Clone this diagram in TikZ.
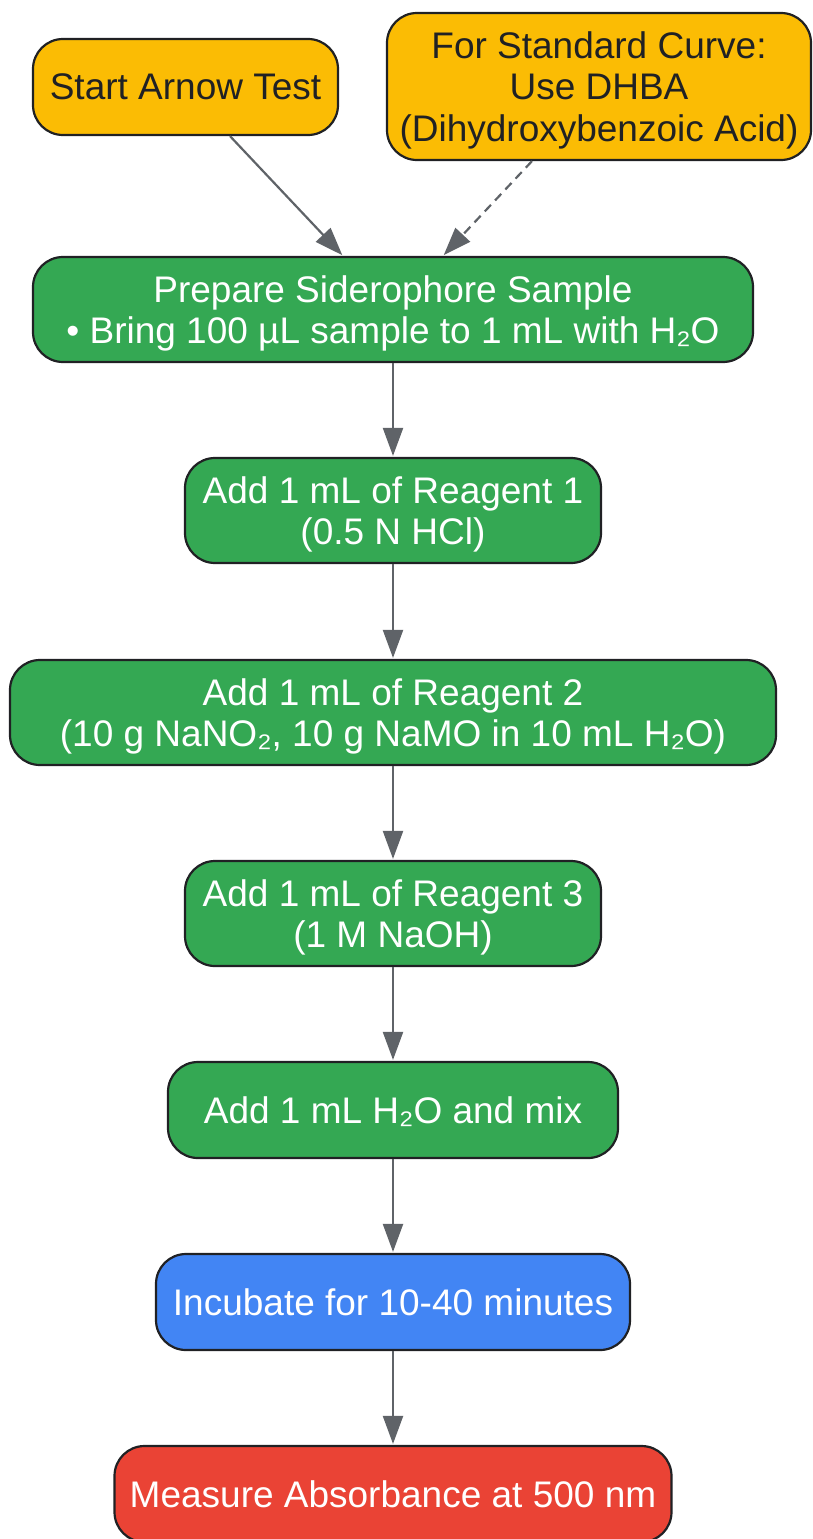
\documentclass[tikz,border=0pt]{standalone}
\usepackage{fontspec}
\setmainfont{Liberation Sans}
\usetikzlibrary{arrows.meta,calc}
\definecolor{gyellow}{HTML}{FBBC04}
\definecolor{ggreen}{HTML}{34A853}
\definecolor{gblue}{HTML}{4285F4}
\definecolor{gred}{HTML}{EA4335}
\definecolor{edgegray}{HTML}{5F6368}
\definecolor{darktext}{HTML}{202124}
\tikzset{
  box/.style={draw=darktext, line width=2.2pt, rounded corners=30pt, align=center,
    inner sep=0pt, text depth=-3pt, font=\fontsize{37}{41.8}\selectfont},
  startbox/.style={box, fill=gyellow, text=darktext},
  stepbox/.style={box, fill=ggreen, text=white},
  incbox/.style={box, fill=gblue, text=white},
  endbox/.style={box, fill=gred, text=white},
  conn/.style={draw=edgegray, line width=2.2pt, -{Triangle[length=28pt,width=20pt]}, shorten >=1pt},
}
\begin{document}
\begin{tikzpicture}[x=1pt,y=-1pt]
\useasboundingbox (0,0) rectangle (812,1539);
\node[startbox, minimum width=305pt, minimum height=96pt] (start) at (185.5,87) {Start Arnow Test};
\node[startbox, minimum width=424pt, minimum height=147pt] (std) at (599,86.5) {For Standard Curve:\\Use DHBA\\(Dihydroxybenzoic Acid)};
\node[stepbox, minimum width=720pt, minimum height=105pt] (prep) at (393,309.5) {Prepare Siderophore Sample\\• Bring 100 µL sample to 1 mL with H₂O};
\node[stepbox, minimum width=416pt, minimum height=105pt] (r1) at (393,510.5) {Add 1 mL of Reagent 1\\(0.5 N HCl)};
\node[stepbox, minimum width=766pt, minimum height=105pt] (r2) at (393,712.5) {Add 1 mL of Reagent 2\\(10 g NaNO₂, 10 g NaMO in 10 mL H₂O)};
\node[stepbox, minimum width=416pt, minimum height=105pt] (r3) at (393,913.5) {Add 1 mL of Reagent 3\\(1 M NaOH)};
\node[stepbox, minimum width=450pt, minimum height=96pt] (water) at (393,1110) {Add 1 mL H₂O and mix};
\node[incbox, minimum width=474pt, minimum height=96pt] (inc) at (393,1302) {Incubate for 10-40 minutes};
\node[endbox, minimum width=557pt, minimum height=96pt] (meas) at (393,1494) {Measure Absorbance at 500 nm};
\draw[conn] ($(start.south)+(44.5,0)$) -- ($(prep.north)+(-50,0)$);
\draw[conn, dash pattern=on 9pt off 6pt] ($(std.south)+(-67,0)$) -- ($(prep.north)+(50,0)$);
\draw[conn] (prep) -- (r1);
\draw[conn] (r1) -- (r2);
\draw[conn] (r2) -- (r3);
\draw[conn] (r3) -- (water);
\draw[conn] (water) -- (inc);
\draw[conn] (inc) -- (meas);
\end{tikzpicture}
\end{document}
